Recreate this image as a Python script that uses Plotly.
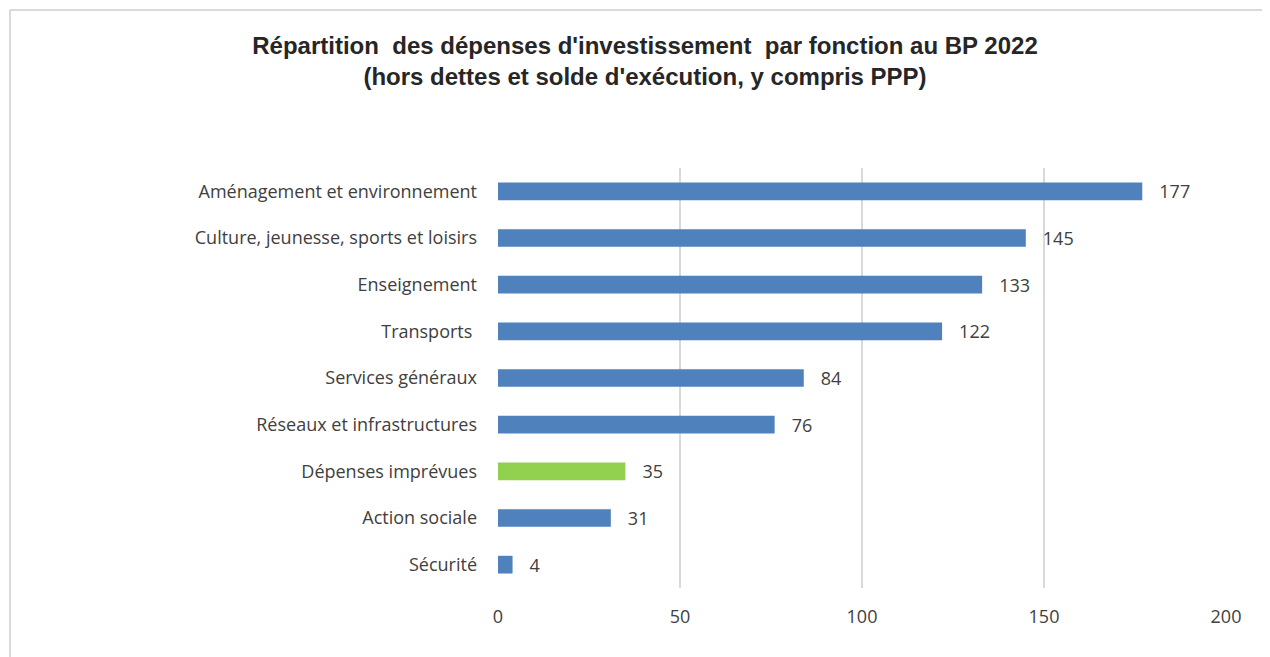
import plotly.graph_objects as go

categories = [
    "Aménagement et environnement",
    "Culture, jeunesse, sports et loisirs",
    "Enseignement",
    "Transports ",
    "Services généraux",
    "Réseaux et infrastructures",
    "Dépenses imprévues",
    "Action sociale",
    "Sécurité",
]
values = [177, 145, 133, 122, 84, 76, 35, 31, 4]
bar_colors = ["#4f81bd", "#4f81bd", "#4f81bd", "#4f81bd", "#4f81bd",
              "#4f81bd", "#92d050", "#4f81bd", "#4f81bd"]
x_ticks = [0, 50, 100, 150, 200]

# page body has an 8px margin; figure drawn at offset (8, 8)
OFF = 8
W, H = 1270 - OFF, 657 - OFF
L, R, T, B = 498 - OFF, 44, 168 - OFF, 69
pw, ph = W - L - R, H - T - B

FONT = "Open Sans, Noto Sans, sans-serif"

fig = go.Figure(go.Bar(
    y=categories,
    x=values,
    orientation="h",
    marker=dict(color=bar_colors, line=dict(width=0)),
    width=0.38,
    text=values,
    texttemplate="   %{x}",
    textposition="outside",
    constraintext="none",
    textfont=dict(family=FONT, size=18, color="#404040"),
    cliponaxis=False,
))

# border of the chart area (top and left edges visible)
bx = (10 - OFF - L) / pw
by = (H - B - (10 - OFF)) / ph
fig.add_shape(type="line", xref="paper", yref="paper", x0=bx, x1=1.2, y0=by, y1=by,
              line=dict(color="#d9d9d9", width=2))
fig.add_shape(type="line", xref="paper", yref="paper", x0=bx, x1=bx, y0=-0.3, y1=by,
              line=dict(color="#d9d9d9", width=2))

fig.update_layout(
    width=W, height=H,
    margin=dict(l=L, r=R, t=T, b=B),
    paper_bgcolor="white",
    plot_bgcolor="white",
    showlegend=False,
    title=dict(
        text="Répartition  des dépenses d'investissement  par fonction au BP 2022<br>(hors dettes et solde d'exécution, y compris PPP)",
        x=(645 - OFF) / W, xref="container", xanchor="center",
        y=1 - (54 - OFF) / H, yref="container", yanchor="middle",
        font=dict(family="Liberation Sans, Arial, sans-serif", size=24, color="#262626", weight="bold"),
    ),
    xaxis=dict(
        range=[0, 200],
        tickvals=x_ticks,
        showgrid=True, gridcolor="#d9d9d9", gridwidth=2,
        zeroline=False, showline=False,
        ticks="",
        ticklabelstandoff=16,
        tickfont=dict(family=FONT, size=18, color="#404040"),
    ),
    yaxis=dict(
        categoryorder="array",
        categoryarray=categories[::-1],
        showgrid=False, zeroline=False, showline=False,
        ticks="",
        ticklabelstandoff=20,
        tickfont=dict(family=FONT, size=18, color="#404040"),
    ),
)

fig.write_html("out.html")
